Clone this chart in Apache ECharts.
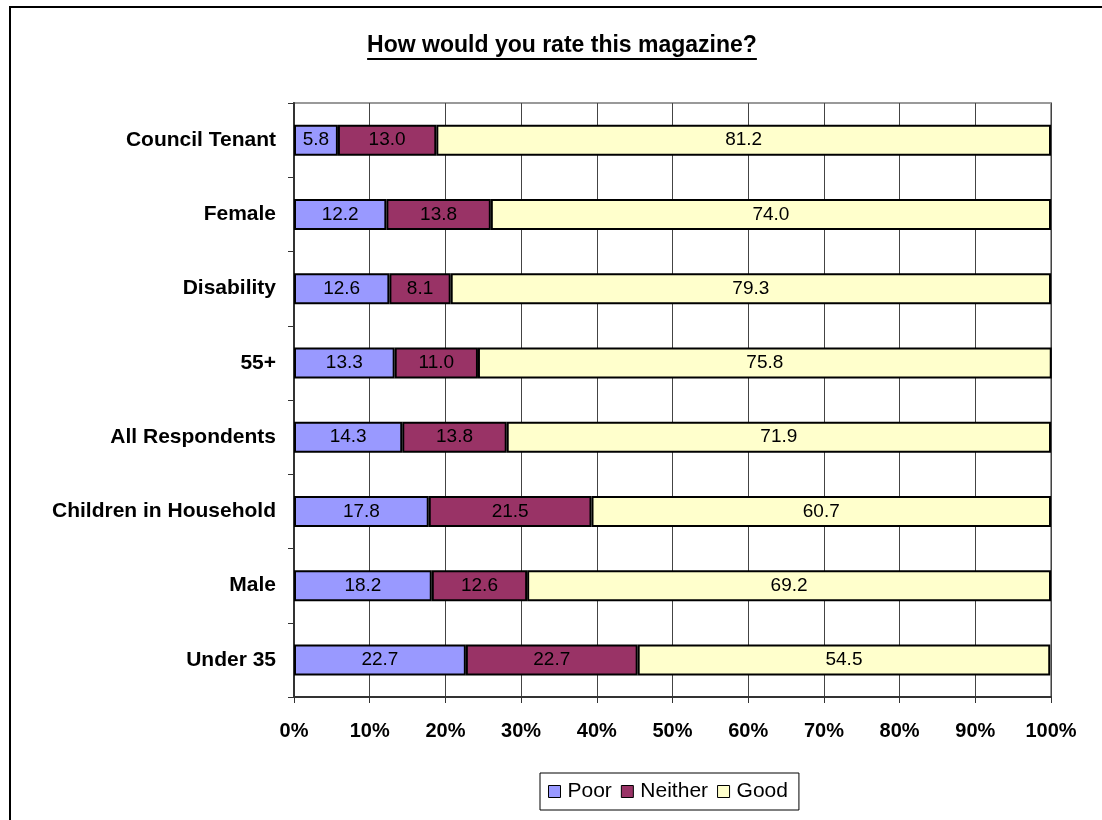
<!DOCTYPE html>
<html>
<head>
<meta charset="utf-8">
<title>How would you rate this magazine?</title>
<script src="https://cdn.jsdelivr.net/npm/echarts@6/dist/echarts.min.js"></script>
<style>
  html, body { margin: 0; padding: 0; background: #fff; }
  #chart { width: 1102px; height: 820px; }
</style>
</head>
<body>
<div id="chart"></div>
<script>
// Respondent groups, top to bottom
const categories = [
  'Council Tenant', 'Female', 'Disability', '55+',
  'All Respondents', 'Children in Household', 'Male', 'Under 35'
];
// Percentage of each group giving each rating
const poor    = [5.8, 12.2, 12.6, 13.3, 14.3, 17.8, 18.2, 22.7];
const neither = [13.0, 13.8, 8.1, 11.0, 13.8, 21.5, 12.6, 22.7];
const good    = [81.2, 74.0, 79.3, 75.8, 71.9, 60.7, 69.2, 54.5];
const seriesNames = ['Poor', 'Neither', 'Good'];
const titleText = 'How would you rate this magazine?';

const colors = ['#9999FF', '#993366', '#FFFFCC'];
const FONT = 'Arial, "Liberation Sans", Helvetica, sans-serif';
const TITLE_FONT = 'bold 23px ' + FONT;

const chart = echarts.init(document.getElementById('chart'), null, { renderer: 'canvas' });

function makeSeries(name, data, color) {
  return {
    name: name,
    type: 'bar',
    stack: 'total',
    data: data,
    barWidth: 31,
    itemStyle: { color: color, borderColor: '#000', borderWidth: 2 },
    label: {
      show: true,
      position: 'inside',
      color: '#000',
      fontFamily: FONT,
      fontSize: 19,
      formatter: p => p.value.toFixed(1)
    },
    emphasis: { disabled: true }
  };
}

// Width of the title, used for its underline
const ctx = document.createElement('canvas').getContext('2d');
ctx.font = TITLE_FONT;
const titleW = ctx.measureText(titleText).width;
const titleCx = 562;

chart.setOption({
  animation: false,
  backgroundColor: '#fff',
  grid: {
    left: 294, right: 51, top: 103, bottom: 123,
    show: true, borderColor: '#999', borderWidth: 2
  },
  legend: {
    data: seriesNames,
    left: 540, top: 773,
    icon: 'rect',
    itemWidth: 12, itemHeight: 12,
    itemGap: 9,
    padding: [8, 11, 8, 8],
    borderColor: '#000', borderWidth: 1,
    itemStyle: { borderColor: '#000', borderWidth: 1 },
    textStyle: { fontFamily: FONT, fontSize: 21, color: '#000', padding: [0, 0, 0, 2] },
    selectedMode: false
  },
  xAxis: {
    type: 'value',
    min: 0, max: 100, interval: 10,
    axisLine: { show: true, lineStyle: { color: '#333', width: 2 } },
    axisTick: { show: true, length: 6, lineStyle: { color: '#333', width: 1 } },
    splitLine: { show: true, lineStyle: { color: '#444', width: 1 } },
    axisLabel: {
      formatter: '{value}%',
      fontFamily: FONT, fontWeight: 'bold', fontSize: 20, color: '#000',
      margin: 24
    }
  },
  yAxis: {
    type: 'category',
    data: categories,
    inverse: true,
    axisLine: { show: true, lineStyle: { color: '#333', width: 2 } },
    axisTick: { show: true, length: 6, lineStyle: { color: '#333', width: 1 } },
    axisLabel: {
      fontFamily: FONT, fontWeight: 'bold', fontSize: 21, color: '#000',
      margin: 18
    }
  },
  series: [
    makeSeries(seriesNames[0], poor, colors[0]),
    makeSeries(seriesNames[1], neither, colors[1]),
    makeSeries(seriesNames[2], good, colors[2])
  ],
  graphic: [
    {
      type: 'rect', silent: true, z: 100,
      shape: { x: 10, y: 7, width: 1200, height: 900 },
      style: { fill: 'none', stroke: '#000', lineWidth: 2 }
    },
    {
      type: 'text', silent: true,
      x: titleCx, y: 46,
      style: {
        text: titleText,
        font: TITLE_FONT,
        fill: '#000',
        textAlign: 'center', textVerticalAlign: 'middle'
      }
    },
    {
      type: 'line', silent: true,
      shape: { x1: titleCx - titleW / 2, y1: 59, x2: titleCx + titleW / 2, y2: 59 },
      style: { stroke: '#000', lineWidth: 2 }
    }
  ]
});
</script>
</body>
</html>
